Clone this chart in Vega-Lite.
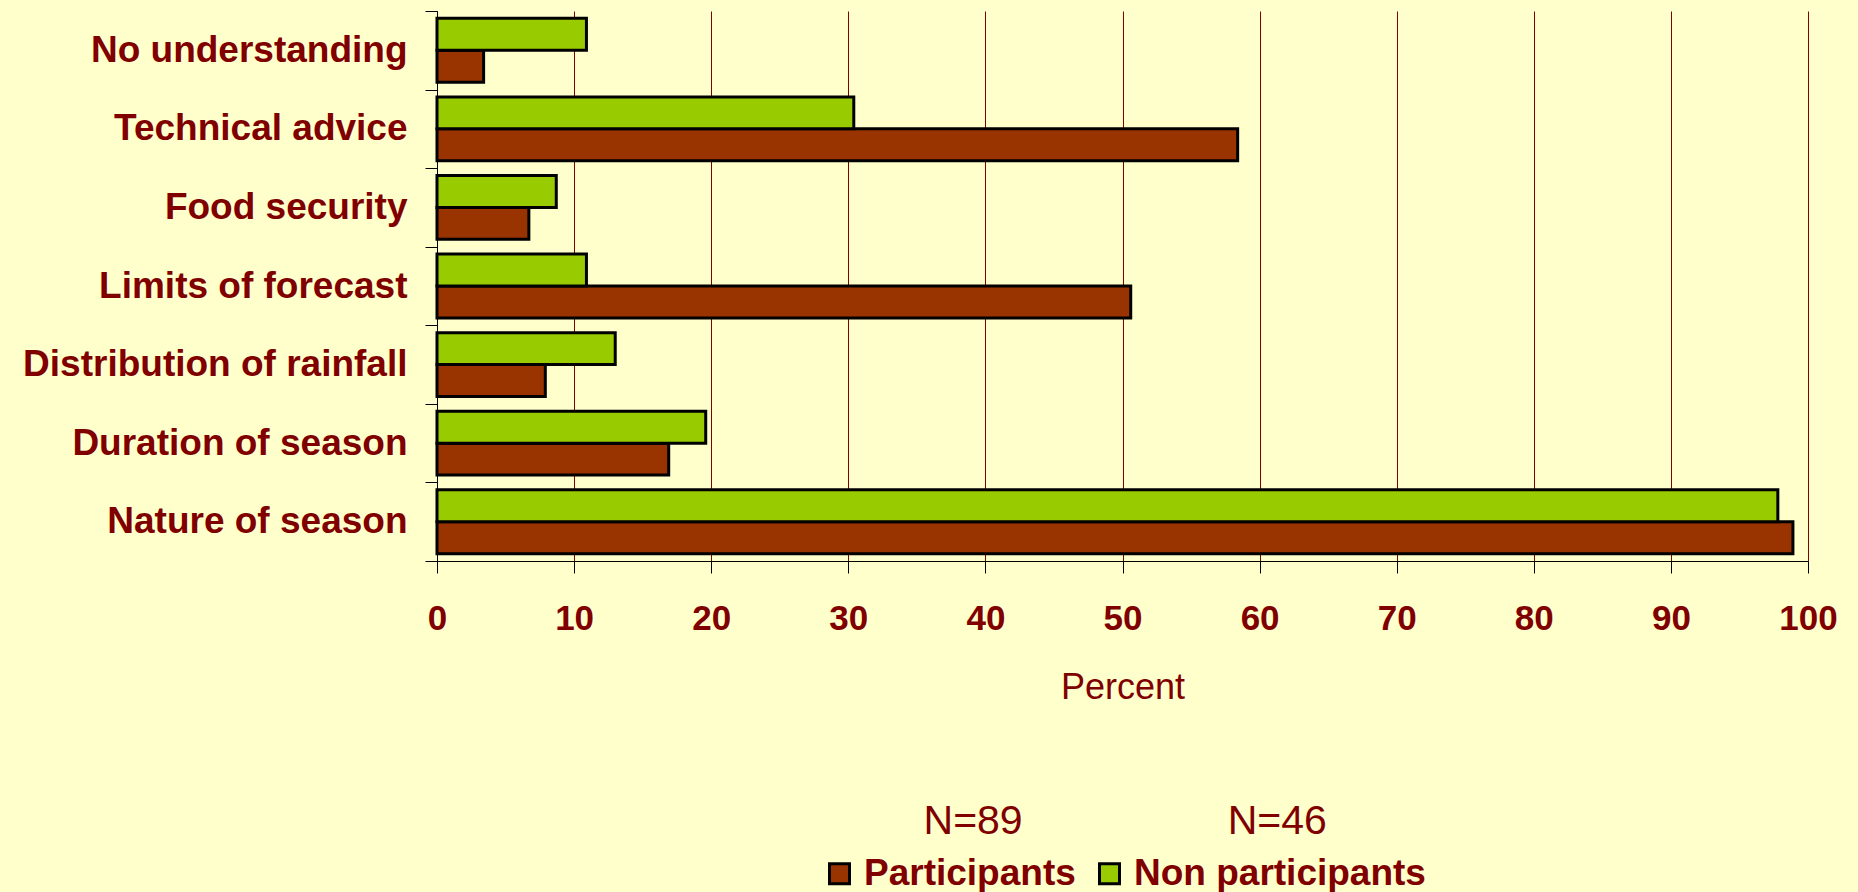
{
  "$schema": "https://vega.github.io/schema/vega-lite/v6.json",
  "autosize": {"type": "none"},
  "width": 1371,
  "height": 550,
  "padding": {"left": 437, "top": 11, "right": 50, "bottom": 331},
  "background": "#FFFFCC",
  "config": {"view": {"stroke": null}, "font": "Liberation Sans"},
  "data": {
    "values": [
      {"item": "No understanding", "group": "Participants", "percent": 3.4},
      {"item": "No understanding", "group": "Non participants", "percent": 10.9},
      {"item": "Technical advice", "group": "Participants", "percent": 58.4},
      {"item": "Technical advice", "group": "Non participants", "percent": 30.4},
      {"item": "Food security", "group": "Participants", "percent": 6.7},
      {"item": "Food security", "group": "Non participants", "percent": 8.7},
      {"item": "Limits of forecast", "group": "Participants", "percent": 50.6},
      {"item": "Limits of forecast", "group": "Non participants", "percent": 10.9},
      {"item": "Distribution of rainfall", "group": "Participants", "percent": 7.9},
      {"item": "Distribution of rainfall", "group": "Non participants", "percent": 13.0},
      {"item": "Duration of season", "group": "Participants", "percent": 16.9},
      {"item": "Duration of season", "group": "Non participants", "percent": 19.6},
      {"item": "Nature of season", "group": "Participants", "percent": 98.9},
      {"item": "Nature of season", "group": "Non participants", "percent": 97.8}
    ]
  },
  "mark": {"type": "bar", "stroke": "black", "strokeWidth": 3, "opacity": 1},
  "encoding": {
    "y": {
      "field": "item",
      "type": "nominal",
      "sort": ["No understanding", "Technical advice", "Food security", "Limits of forecast", "Distribution of rainfall", "Duration of season", "Nature of season"],
      "scale": {"paddingInner": 0, "paddingOuter": 0},
      "axis": {
        "title": null,
        "tickBand": "extent",
        "tickSize": 12,
        "tickColor": "#000000",
        "domainColor": "#000000",
        "labelFontSize": 37,
        "labelFontWeight": "bold",
        "labelColor": "#800000",
        "labelPadding": 18,
        "labelLimit": 600,
        "labelExpr": "datum.value === 'Technical advice' ? 'Technical advice\u00a0' : datum.value"
      }
    },
    "yOffset": {
      "field": "group",
      "sort": ["Non participants", "Participants"],
      "scale": {"paddingInner": 0, "paddingOuter": 0.23}
    },
    "x": {
      "field": "percent",
      "type": "quantitative",
      "scale": {"domain": [0, 100], "nice": false},
      "axis": {
        "values": [0, 10, 20, 30, 40, 50, 60, 70, 80, 90, 100],
        "grid": true,
        "gridColor": {"condition": {"test": "datum.value === 0", "value": "#000000"}, "value": "#800000"},
        "gridWidth": 1,
        "tickSize": 12,
        "tickColor": "#000000",
        "domainColor": "#000000",
        "labelFontSize": 35,
        "labelFontWeight": "bold",
        "labelColor": "#800000",
        "labelPadding": 28,
        "labelFlush": false,
        "title": "Percent",
        "titleFontSize": 36,
        "titleFontWeight": "normal",
        "titleColor": "#800000",
        "titlePadding": 34
      }
    },
    "color": {
      "field": "group",
      "type": "nominal",
      "scale": {"domain": ["Participants", "Non participants"], "range": ["#993300", "#99CC00"]},
      "legend": {
        "orient": "none",
        "legendX": 384,
        "legendY": 791,
        "direction": "horizontal",
        "title": "\u200b\u00a0\u00a0\u00a0\u00a0\u00a0\u00a0\u00a0\u00a0\u00a0N=89\u00a0\u00a0\u00a0\u00a0\u00a0\u00a0\u00a0\u00a0\u00a0\u00a0\u00a0\u00a0\u00a0\u00a0\u00a0\u00a0\u00a0\u00a0N=46",
        "titleFontSize": 41,
        "titleFontWeight": "normal",
        "titleColor": "#800000",
        "titleAnchor": "start",
        "titlePadding": 12,
        "titleLimit": 1000,
        "labelFontSize": 37,
        "labelFontWeight": "bold",
        "labelColor": "#800000",
        "labelLimit": 1000,
        "labelOffset": 6,
        "columnPadding": 15,
        "padding": 0,
        "symbolType": "square",
        "symbolSize": 400,
        "symbolStrokeColor": "black",
        "symbolStrokeWidth": 3,
        "symbolOpacity": 1
      }
    }
  }
}
